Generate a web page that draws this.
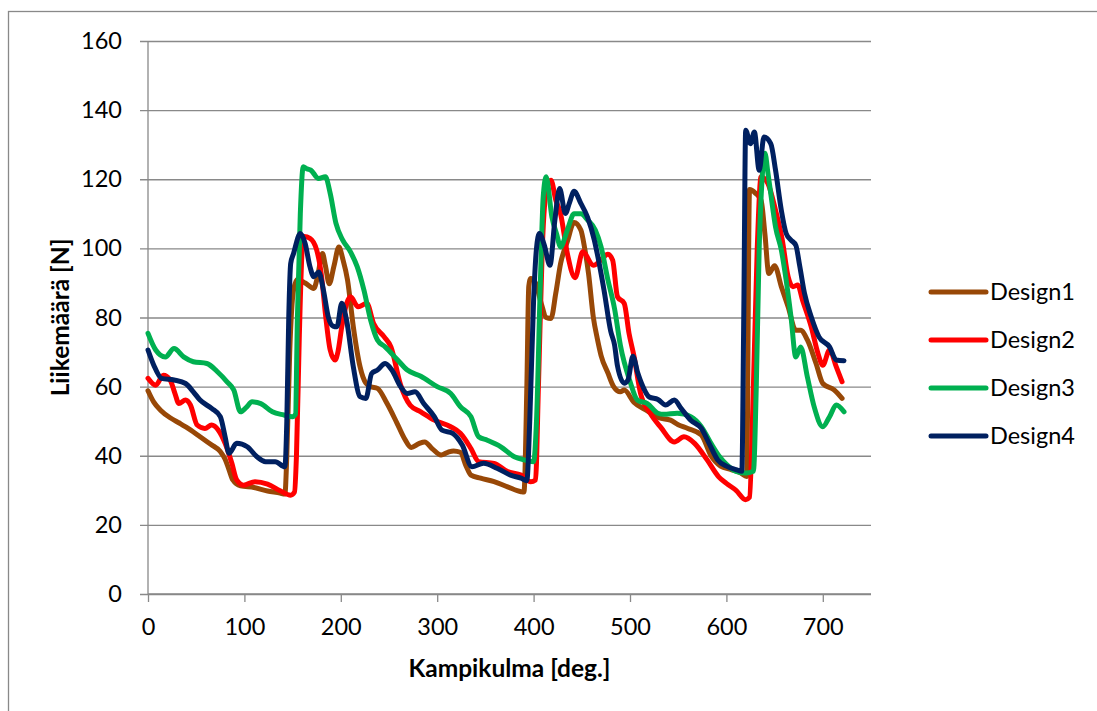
<!DOCTYPE html>
<html>
<head>
<meta charset="utf-8">
<script src="https://cdn.jsdelivr.net/npm/d3@7"></script>
<style>
  body { margin: 0; background: #fff; }
  text { font-family: Lato, 'Open Sans', sans-serif; fill: #000; }
</style>
</head>
<body>
<div class="chart"></div>
<script>
const seriesNames = ['Design1', 'Design2', 'Design3', 'Design4'];
const seriesColors = ['#984807', '#ff0000', '#00b050', '#002060'];
const xTicks = [0, 100, 200, 300, 400, 500, 600, 700];
const yTicks = [0, 20, 40, 60, 80, 100, 120, 140, 160];

// [crank angle, force]
const design1 = [[0,58.8],[6,55.5],[13,53.2],[23,51],[33,49.4],[44,47.5],[54,45.5],[65,43.3],[75,41.2],[80,39],[84,36],[88,33],[96,31.3],[110,30.8],[124,29.8],[137,29.2],[142,28.9],[144,40],[147,70],[151,88],[155,91],[163,90],[172,88.4],[176,92],[181,98.5],[184,95],[188,89.8],[193,95],[198,100.4],[202,97],[207,90.8],[213,77.3],[220,65.7],[226,61],[231,60],[238,59.5],[248,55.1],[258,49.6],[266,45],[273,42.4],[281,43.5],[287,44],[295,42],[304,40.2],[311,41],[317,41.4],[324,41],[330,37],[335,34.4],[345,33.5],[359,32.5],[373,31],[387,29.6],[390,29.5],[393,60],[395,89],[397,91.3],[402,90],[408,84],[413,80],[418,79.7],[423,87],[428,95.6],[435,102],[442,107.5],[449,105.3],[453,100],[457,92.7],[462,80],[466,74],[470,69],[477,64],[483,60],[490,58.5],[494,59],[504,55.5],[518,53],[530,51],[542,50.3],[550,49],[560,47.9],[574,46],[584,40],[594,37],[605,36],[615,35],[621,34],[624,117],[630,116],[636,113.9],[640,104],[644,92.7],[650,95],[657,88.9],[664,83.1],[672,76.3],[677,76.3],[684,73.5],[693,66.7],[700,60.9],[712,59],[720,56.6]];
const design2 = [[0,62.4],[8,60.4],[16,63.3],[23,61.9],[28,58],[32,55.1],[39,56.1],[44,54.7],[51,48.9],[59,47.9],[66,48.9],[73,47.4],[80,43.6],[87,37.8],[92,33],[99,31.5],[111,32.5],[124,31.8],[137,29.9],[148,28.6],[152,29.5],[154,40],[157,75],[160,100],[162,103.4],[168,102.9],[175,99.5],[180,92],[184,81.2],[189,70.6],[194,67.7],[197,70],[201,77.3],[206,84],[210,86],[218,83.1],[227,84.1],[234,78.3],[245,74.4],[252,71.5],[262,60.5],[272,54.6],[283,52.7],[297,50.3],[314,48.4],[324,46.5],[335,42.1],[343,38.3],[359,37.8],[373,35.4],[387,34.4],[397,32.5],[402,33],[405,60],[409,100],[414,118],[418,119.7],[423,114],[428,110],[435,98.5],[443,91.5],[451,99],[462,95.1],[471,97],[477,98.3],[482,96.6],[487,86],[494,84.1],[499,75.4],[504,69],[511,58],[521,52.3],[532,48.2],[546,44],[556,45.5],[567,43.6],[580,38.8],[592,33.9],[600,32],[610,30],[620,27.3],[624,28],[628,60],[632,100],[636,120.7],[643,118.8],[651,111],[658,102.4],[664,91.8],[669,88.9],[674,89.4],[679,85],[688,77.3],[695,69.6],[700,66.2],[707,70.6],[714,65.7],[720,61.4]];
const design3 = [[0,75.4],[8,70.6],[18,68.6],[27,71],[37,68.6],[47,67.2],[61,66.7],[72,64.3],[82,61.4],[89,59],[96,52.7],[102,54],[108,55.6],[117,55.1],[129,52.7],[141,51.8],[150,51.3],[153,52],[155,80],[158,110],[161,123.6],[165,123],[169,122.6],[177,120.2],[184,120.7],[189,115.9],[195,107.2],[202,102.4],[210,99],[217,94.7],[224,87.9],[231,79.2],[238,73.5],[246,71.5],[259,67.7],[269,64.8],[283,63],[300,60],[314,58],[324,54.2],[335,51.3],[343,45.5],[352,44.5],[366,42.6],[380,39.7],[390,38.8],[400,38.3],[403,50],[407,90],[410,115],[413,120.7],[419,109.1],[424,104],[428,100.4],[435,105.3],[442,110],[449,110],[456,108.2],[464,105.3],[470,100.4],[477,91],[484,82.5],[490,72],[500,61.5],[508,56],[518,55.1],[529,52.3],[535,52],[549,52.3],[563,51.3],[574,48.4],[584,43.6],[593,39.7],[600,37.5],[610,35.5],[620,35],[628,35.5],[631,60],[634,100],[637,120],[640,127.5],[643,122],[646,115.9],[651,106.2],[657,99.5],[662,90.8],[667,80.2],[672,68.6],[677,71.5],[684,62.8],[691,54.2],[700,48.4],[707,51.3],[714,54.7],[722,52.7]];
const design4 = [[0,70.6],[6,66.2],[14,62.4],[27,61.9],[39,60.9],[47,58.5],[54,56.1],[66,53.7],[75,51.3],[80,45.5],[84,40.7],[92,43.6],[103,42.6],[113,39.7],[122,38.3],[132,38.3],[142,36.8],[144,50],[146,80],[148,95.6],[151,98.5],[158,104.3],[163,101.4],[168,94.7],[172,91.8],[177,93.2],[182,87.9],[187,80.2],[192,77.5],[196,77.3],[201,84.1],[206,79.2],[213,65.7],[220,57.1],[226,56.6],[232,63.8],[238,64.8],[246,66.7],[253,64.8],[262,60],[269,58],[277,58.5],[286,55.1],[297,51.3],[305,47.4],[316,46.5],[326,43.1],[336,36.8],[348,37.8],[362,36.4],[376,34.4],[387,33.5],[393,32.8],[396,50],[400,85],[403,100],[406,104.3],[411,101],[417,95.1],[422,108],[427,117.3],[433,110.1],[437,113],[442,116.5],[449,113],[456,109],[463,102.4],[466,98.5],[473,88],[480,76],[484,72],[487,66],[494,61],[498,62],[503,68.8],[508,64],[512,60.9],[520,57],[529,56.3],[537,54.7],[546,56.1],[553,53.7],[563,50.3],[574,47.9],[582,43.6],[591,38.8],[600,37],[610,36],[616,35.5],[618,80],[620,134.2],[625,130.3],[629,133.7],[634,122.6],[639,132.2],[646,130.3],[651,122.6],[657,111],[662,104.3],[667,102.4],[672,100.9],[676,95],[681,87],[688,80.2],[696,74.4],[707,71.5],[714,67.7],[722,67.5]];

const seriesData = [design1, design2, design3, design4];

const width = 1097;
const height = 711;
const margin = { top: 41, left: 148, right: 226, bottom: 117 };
const innerW = width - margin.left - margin.right;
const innerH = height - margin.top - margin.bottom;
const gridColor = '#898989';
const labelSize = '23.5px';

const svg = d3
  .select('.chart')
  .append('svg')
  .attr('width', width)
  .attr('height', height);

// chart area border (right and bottom edges fall outside the frame)
svg
  .append('rect')
  .attr('x', 8.5)
  .attr('y', 11.5)
  .attr('width', width + 20)
  .attr('height', height + 20)
  .attr('fill', 'none')
  .attr('stroke', gridColor)
  .attr('stroke-width', 1.3);

const g = svg
  .append('g')
  .attr('transform', `translate(${margin.left}, ${margin.top})`);

const x = d3
  .scaleLinear()
  .domain([0, 750])
  .range([0, innerW]);
const y = d3
  .scaleLinear()
  .domain([0, 160])
  .range([innerH, 0]);

// horizontal gridlines + y axis
const yAxis = g
  .append('g')
  .call(
    d3
      .axisLeft(y)
      .tickValues(yTicks)
      .tickSize(-innerW)
      .tickPadding(26)
      .tickFormat(d3.format('d'))
  );
yAxis.select('.domain').remove();
yAxis
  .selectAll('line')
  .attr('x1', -8)
  .attr('stroke', gridColor)
  .attr('stroke-width', 1.3);
yAxis
  .selectAll('text')
  .style('font-size', labelSize);

g.append('line')
  .attr('x1', 0)
  .attr('x2', 0)
  .attr('y1', 0)
  .attr('y2', innerH)
  .attr('stroke', gridColor)
  .attr('stroke-width', 1.3);

const xAxis = g
  .append('g')
  .attr('transform', `translate(0, ${innerH})`)
  .call(
    d3
      .axisBottom(x)
      .tickValues(xTicks)
      .tickSize(8)
      .tickPadding(16)
      .tickFormat(d3.format('d'))
  );
xAxis
  .select('.domain')
  .attr('d', `M0,0H${innerW}`)
  .attr('stroke', gridColor)
  .attr('stroke-width', 1.3);
xAxis
  .selectAll('line')
  .attr('stroke', gridColor)
  .attr('stroke-width', 1.3);
xAxis
  .selectAll('text')
  .style('font-size', labelSize);

// series
const line = d3
  .line()
  .x(d => {
    return x(d[0]);
  })
  .y(d => {
    return y(d[1]);
  })
  .curve(d3.curveMonotoneX);

g.selectAll('.series')
  .data(seriesData)
  .enter()
  .append('path')
  .attr('class', 'series')
  .attr('d', d => {
    return line(d);
  })
  .attr('fill', 'none')
  .attr('stroke', (d, i) => {
    return seriesColors[i];
  })
  .attr('stroke-width', 5)
  .attr('stroke-linejoin', 'round')
  .attr('stroke-linecap', 'round');

// axis titles
svg
  .append('text')
  .attr('x', margin.left + innerW / 2)
  .attr('y', 677)
  .attr('text-anchor', 'middle')
  .style('font-size', '24.5px')
  .style('font-weight', 'bold')
  .text('Kampikulma [deg.]');

svg
  .append('text')
  .attr('transform', `translate(69, ${margin.top + innerH / 2}) rotate(-90)`)
  .attr('text-anchor', 'middle')
  .style('font-size', '24.5px')
  .style('font-weight', 'bold')
  .text('Liikemäärä [N]');

// legend
const legend = svg
  .selectAll('.legend')
  .data(seriesNames)
  .enter()
  .append('g')
  .attr('class', 'legend')
  .attr('transform', (d, i) => {
    return `translate(931, ${292 + i * 48})`;
  });
legend
  .append('line')
  .attr('x1', 0)
  .attr('x2', 55)
  .attr('stroke', (d, i) => {
    return seriesColors[i];
  })
  .attr('stroke-width', 5)
  .attr('stroke-linecap', 'round');
legend
  .append('text')
  .attr('x', 59)
  .attr('dy', '0.35em')
  .style('font-size', labelSize)
  .text(d => {
    return d;
  });
</script>
</body>
</html>
